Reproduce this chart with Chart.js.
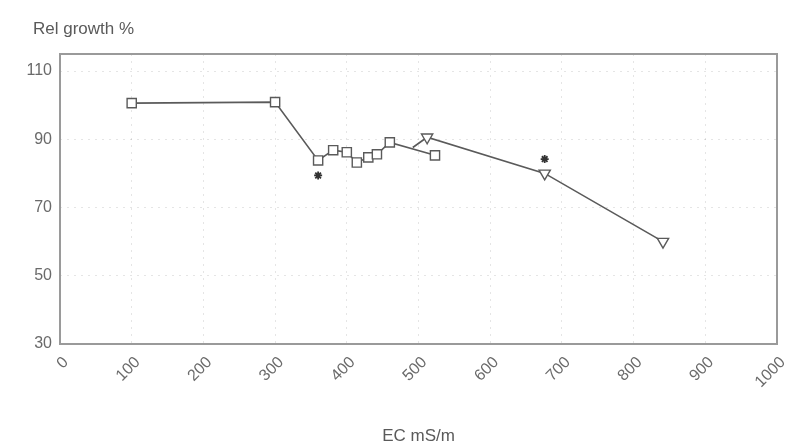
<!DOCTYPE html>
<html>
<head>
<meta charset="utf-8">
<script src="https://cdn.jsdelivr.net/npm/chart.js@4.4.1/dist/chart.umd.min.js"></script>
<style>
  html, body { margin: 0; padding: 0; background: #fff; }
  #wrap { width: 787px; height: 447px; }
</style>
</head>
<body>
<div id="wrap"><canvas id="c" width="787" height="447"></canvas></div>
<script>
// Relative growth against electrical conductivity of the root medium
const squareEC     = [100, 300, 360, 381, 400, 414, 430, 442, 460, 523];
const squareGrowth = [100.6, 100.9, 83.8, 86.8, 86.2, 83.2, 84.7, 85.6, 89.1, 85.3];

const triangleEC     = [492, 512, 676, 841];
const triangleGrowth = [87.6, 90.6, 80.0, 60.0];

// significant differences
const starEC     = [360, 676];
const starGrowth = [79.4, 84.2];

const xTicks = [0, 100, 200, 300, 400, 500, 600, 700, 800, 900, 1000];
const yTicks = [30, 50, 70, 90, 110];

const yTitle = 'Rel growth %';
const xTitle = 'EC mS/m';

const pairs = (xs, ys) => xs.map((x, i) => ({ x, y: ys[i] }));

const ink = '#5a5a5a';
const tickColor = '#6a6a6a';
const fontFamily = '"Liberation Sans", Arial, sans-serif';

const framePlugin = {
  id: 'frame',
  beforeDatasetsDraw(chart) {
    const { ctx, chartArea: a } = chart;
    ctx.save();
    ctx.strokeStyle = '#9a9a9a';
    ctx.lineWidth = 2;
    ctx.strokeRect(a.left, a.top, a.right - a.left, a.bottom - a.top);
    ctx.restore();
  },
  afterDraw(chart) {
    const { ctx, chartArea: a } = chart;
    ctx.save();
    ctx.fillStyle = '#5a5a5a';
    ctx.font = '17px ' + fontFamily;
    ctx.textBaseline = 'middle';
    ctx.textAlign = 'left';
    ctx.fillText(yTitle, a.left - 27, 29);
    ctx.restore();
  }
};

new Chart(document.getElementById('c'), {
  type: 'scatter',
  data: {
    datasets: [
      {
        data: pairs(squareEC, squareGrowth),
        showLine: true,
        borderColor: ink,
        borderWidth: 1.6,
        pointStyle: 'rect',
        pointRadius: 6.5,
        pointBorderWidth: 1.4,
        pointBorderColor: ink,
        pointBackgroundColor: '#fff'
      },
      {
        data: pairs(triangleEC, triangleGrowth),
        showLine: true,
        borderColor: ink,
        borderWidth: 1.6,
        pointStyle: 'triangle',
        rotation: 180,
        pointRadius: (c) => c.dataIndex === 0 ? 0 : 6.5,
        pointBorderWidth: 1.4,
        pointBorderColor: ink,
        pointBackgroundColor: '#fff'
      },
      {
        data: pairs(starEC, starGrowth),
        showLine: false,
        pointStyle: 'star',
        pointRadius: 4,
        pointBorderWidth: 1.8,
        pointBorderColor: '#333',
        pointBackgroundColor: '#333'
      }
    ]
  },
  options: {
    responsive: false,
    animation: false,
    layout: { padding: { top: 54, right: 10, bottom: 0, left: 0 } },
    plugins: {
      legend: { display: false },
      tooltip: { enabled: false }
    },
    scales: {
      x: {
        type: 'linear',
        min: 0,
        max: 1000,
        afterBuildTicks: (s) => { s.ticks = xTicks.map(v => ({ value: v })); },
        afterFit: (s) => { s.height = 103; s.paddingLeft = 0; s.paddingRight = 0; },
        grid: {
          color: 'rgba(0,0,0,0.10)',
          lineWidth: 1,
          drawTicks: false
        },
        border: { display: false, dash: [2, 5] },
        ticks: {
          autoSkip: false,
          minRotation: 45,
          maxRotation: 45,
          padding: 9,
          labelOffset: 6,
          color: tickColor,
          callback: (v) => String(v),
          font: { family: fontFamily, size: 16 }
        },
        title: {
          display: true,
          text: xTitle,
          color: '#5a5a5a',
          padding: 0,
          font: { family: fontFamily, size: 17 }
        }
      },
      y: {
        type: 'linear',
        min: 30,
        max: 115,
        afterBuildTicks: (s) => { s.ticks = yTicks.map(v => ({ value: v })); },
        afterFit: (s) => { s.width = 60; s.paddingTop = 0; s.paddingBottom = 0; },
        grid: {
          color: 'rgba(0,0,0,0.10)',
          lineWidth: 1,
          drawTicks: false
        },
        border: { display: false, dash: [2, 5] },
        ticks: {
          padding: 8,
          color: tickColor,
          font: { family: fontFamily, size: 16 }
        }
      }
    }
  },
  plugins: [framePlugin]
});
</script>
</body>
</html>
